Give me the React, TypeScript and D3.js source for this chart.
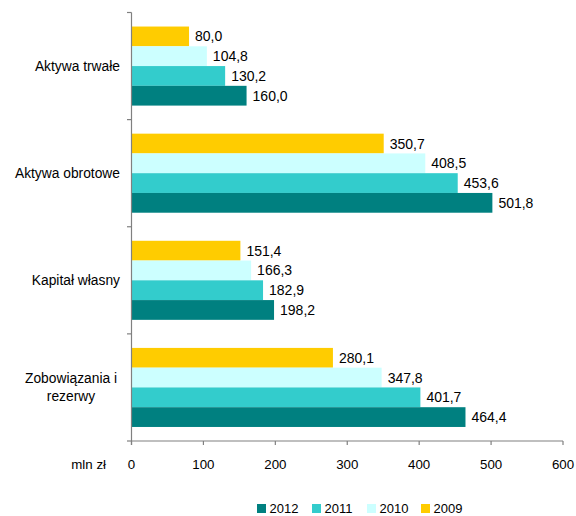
import React from "react";
import * as d3 from "d3";

const categories = ["Aktywa trwałe", "Aktywa obrotowe", "Kapitał własny", "Zobowiązania i rezerwy"];
const categoryLines = [["Aktywa trwałe"], ["Aktywa obrotowe"], ["Kapitał własny"], ["Zobowiązania i", "rezerwy"]];
const years = ["2009", "2010", "2011", "2012"];
const values2009 = [80.0, 350.7, 151.4, 280.1];
const values2010 = [104.8, 408.5, 166.3, 347.8];
const values2011 = [130.2, 453.6, 182.9, 401.7];
const values2012 = [160.0, 501.8, 198.2, 464.4];
const xTicks = [0, 100, 200, 300, 400, 500, 600];
const legendYears = ["2012", "2011", "2010", "2009"];

const colors: Record<string, string> = {
  "2012": "#008080",
  "2011": "#33CCCC",
  "2010": "#CCFFFF",
  "2009": "#FFCC00",
};

const seriesByYear: Record<string, number[]> = {
  "2009": values2009,
  "2010": values2010,
  "2011": values2011,
  "2012": values2012,
};

const W = 576;
const H = 516;
const left = 131.5;
const right = 563;
const top = 12.5;
const bottom = 441;
const font = "'Liberation Sans', Arial, sans-serif";

export default function App() {
  const x = d3.scaleLinear().domain([0, 600]).range([left, right]);
  const y = d3.scaleBand().domain(categories).range([top, bottom]).paddingInner(0);
  const bw = y.bandwidth();
  const groupH = bw * 0.738;
  const inner = d3
    .scaleBand()
    .domain(years)
    .range([0, groupH])
    .padding(0);
  const offset = (bw - groupH) / 2;
  const fmt = (v: number) => v.toFixed(1).replace(".", ",");

  const legendX: Record<string, number> = { "2012": 257, "2011": 312, "2010": 367, "2009": 421 };

  return (
    <svg
      width={W}
      height={H}
      style={{ position: "absolute", left: 0, top: 0, background: "#fff" }}
      fontFamily={font}
    >
      {categories.map((c, ci) => (
        <g key={c}>
          {years.map((yr) => {
            const v = seriesByYear[yr][ci];
            const by = (y(c) as number) + offset + (inner(yr) as number);
            const bh = inner.bandwidth();
            return (
              <g key={yr}>
                <rect x={x(0)} y={by} width={x(v) - x(0)} height={bh} fill={colors[yr]} />
                <text
                  x={x(v) + 6}
                  y={by + bh / 2}
                  dy="0.36em"
                  fontSize={14}
                  fill="#000"
                >
                  {fmt(v)}
                </text>
              </g>
            );
          })}
          {categoryLines[ci].map((line, li) => {
            const n = categoryLines[ci].length;
            const cy = (y(c) as number) + bw / 2 + (li - (n - 1) / 2) * 18;
            const anchorX = n > 1 ? 71 : 120;
            return (
              <text
                key={li}
                x={anchorX}
                y={cy}
                dy="0.36em"
                fontSize={13.8}
                textAnchor={n > 1 ? "middle" : "end"}
                fill="#000"
              >
                {line}
              </text>
            );
          })}
        </g>
      ))}

      {/* value axis */}
      <line x1={left} x2={right} y1={bottom} y2={bottom} stroke="#808080" strokeWidth={1.2} />
      {xTicks.map((t) => (
        <g key={t}>
          <line x1={x(t)} x2={x(t)} y1={bottom} y2={bottom + 4} stroke="#808080" strokeWidth={1.2} />
          <text x={x(t)} y={464} dy="0.36em" fontSize={13.3} textAnchor="middle" fill="#000">
            {t}
          </text>
        </g>
      ))}
      <text x={106} y={464} dy="0.36em" fontSize={13.3} textAnchor="end" fill="#000">
        mln zł
      </text>

      {/* category axis */}
      <line x1={left} x2={left} y1={top} y2={bottom + 4} stroke="#808080" strokeWidth={1.2} />
      {[...categories.map((c) => y(c) as number), bottom].map((t, i) => (
        <line key={i} x1={left - 4.5} x2={left} y1={t} y2={t} stroke="#808080" strokeWidth={1.2} />
      ))}

      {/* legend */}
      {legendYears.map((yr) => (
        <g key={yr}>
          <rect x={legendX[yr]} y={504} width={9} height={9} fill={colors[yr]} />
          <text x={legendX[yr] + 12.5} y={508.5} dy="0.36em" fontSize={13} fill="#000">
            {yr}
          </text>
        </g>
      ))}
    </svg>
  );
}
